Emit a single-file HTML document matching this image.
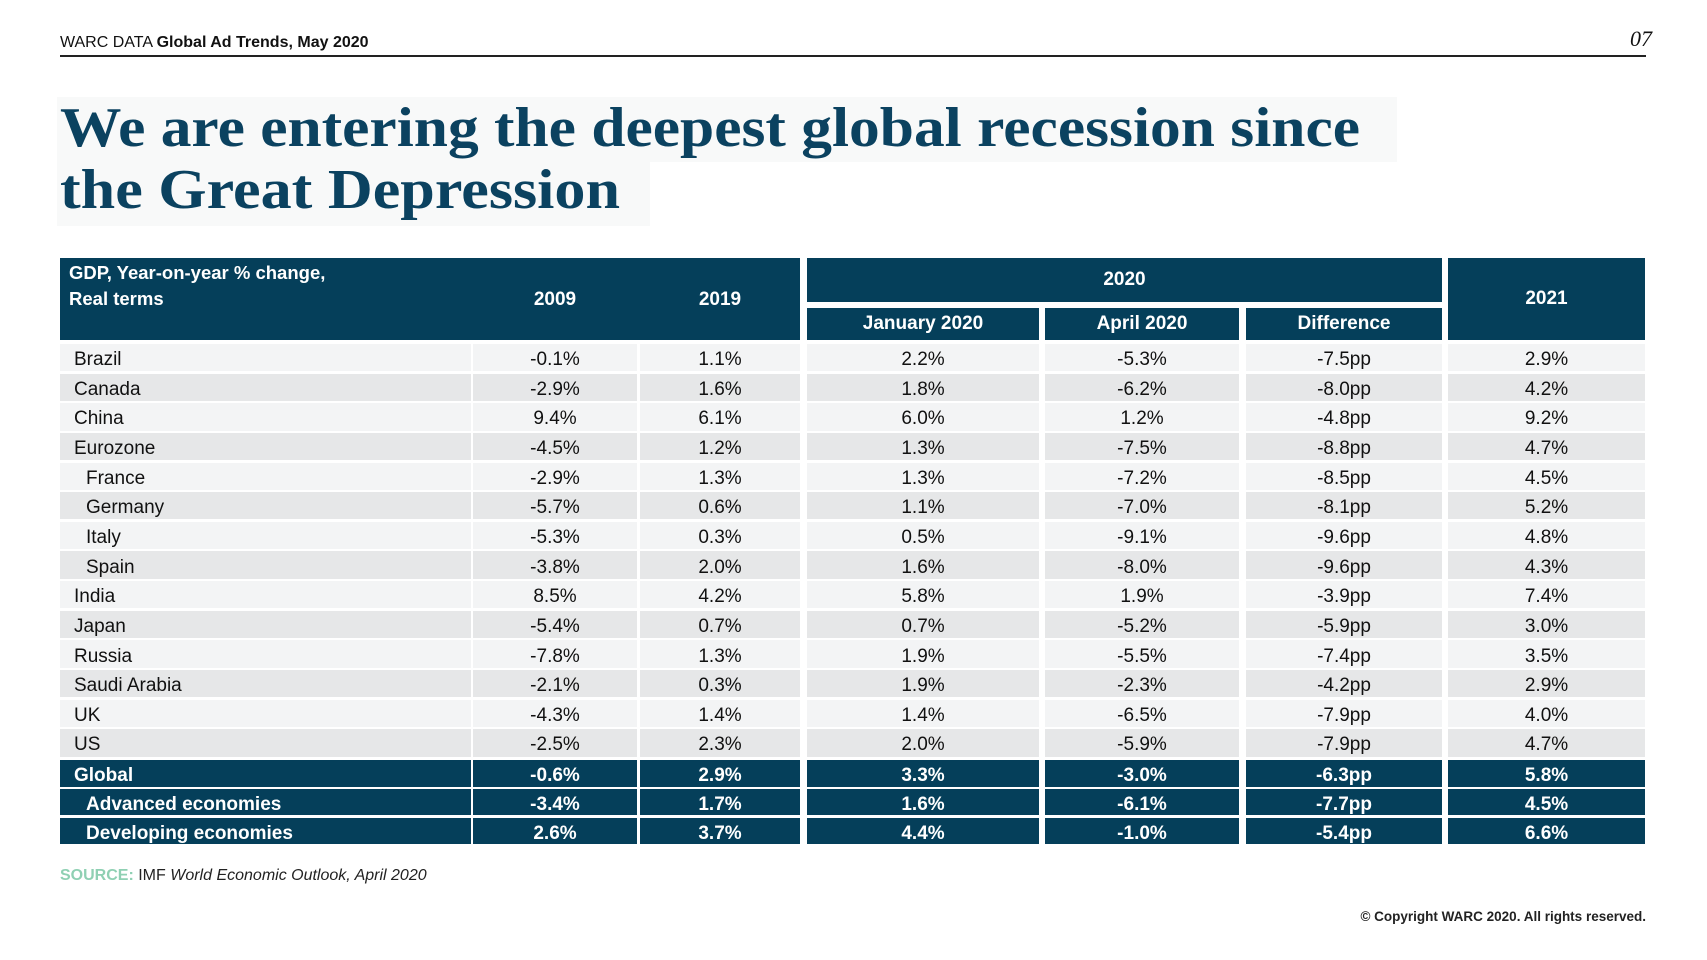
<!DOCTYPE html>
<html><head><meta charset="utf-8">
<style>
body{margin:0;width:1707px;height:960px;background:#fff;position:relative;overflow:hidden;font-family:"Liberation Sans",sans-serif;color:#111}
.a{position:absolute;box-sizing:border-box}
.c{position:absolute;box-sizing:border-box;display:flex;align-items:center;font-size:19px;padding-top:5px}
.dk{background:#053f5a;color:#fff;font-weight:bold}
</style></head><body>
<div class="a" style="left:60px;top:34px;font-size:16px;"><span>WARC DATA</span> <b>Global Ad Trends, May 2020</b></div>
<div class="a" style="right:55px;top:26px;font-family:'Liberation Serif',serif;font-style:italic;font-size:22px">07</div>
<div class="a" style="left:60px;top:55px;width:1586px;height:1.5px;background:#222"></div>
<div class="a" style="left:57px;top:97px;width:1340px;height:65px;background:#f8f9f9"></div>
<div class="a" style="left:57px;top:162px;width:593px;height:64px;background:#f8f9f9"></div>
<svg class="a" style="left:0;top:0" width="1707" height="240">
<text x="60" y="146" textLength="1300" lengthAdjust="spacingAndGlyphs" font-family="Liberation Serif,serif" font-weight="bold" font-size="56" fill="#0b4260">We are entering the deepest global recession since</text>
<text x="60" y="208" textLength="560" lengthAdjust="spacingAndGlyphs" font-family="Liberation Serif,serif" font-weight="bold" font-size="56" fill="#0b4260">the Great Depression</text>
</svg>
<div id="tbl"></div>
<div class="a" style="left:60px;top:867px;font-size:16px;color:#222"><b style="color:#8fd0b3">SOURCE:</b> IMF <i>World Economic Outlook, April 2020</i></div>
<div class="a" style="right:61px;top:909px;font-size:13.5px;font-weight:bold;color:#222">© Copyright WARC 2020. All rights reserved.</div>
<script>
const countries=["Brazil","Canada","China","Eurozone","France","Germany","Italy","Spain","India","Japan","Russia","Saudi Arabia","UK","US","Global","Advanced economies","Developing economies"];
const indent=[0,0,0,0,1,1,1,1,0,0,0,0,0,0,0,1,1];
const v2009=["-0.1%","-2.9%","9.4%","-4.5%","-2.9%","-5.7%","-5.3%","-3.8%","8.5%","-5.4%","-7.8%","-2.1%","-4.3%","-2.5%","-0.6%","-3.4%","2.6%"];
const v2019=["1.1%","1.6%","6.1%","1.2%","1.3%","0.6%","0.3%","2.0%","4.2%","0.7%","1.3%","0.3%","1.4%","2.3%","2.9%","1.7%","3.7%"];
const vJan=["2.2%","1.8%","6.0%","1.3%","1.3%","1.1%","0.5%","1.6%","5.8%","0.7%","1.9%","1.9%","1.4%","2.0%","3.3%","1.6%","4.4%"];
const vApr=["-5.3%","-6.2%","1.2%","-7.5%","-7.2%","-7.0%","-9.1%","-8.0%","1.9%","-5.2%","-5.5%","-2.3%","-6.5%","-5.9%","-3.0%","-6.1%","-1.0%"];
const vDiff=["-7.5pp","-8.0pp","-4.8pp","-8.8pp","-8.5pp","-8.1pp","-9.6pp","-9.6pp","-3.9pp","-5.9pp","-7.4pp","-4.2pp","-7.9pp","-7.9pp","-6.3pp","-7.7pp","-5.4pp"];
const v2021=["2.9%","4.2%","9.2%","4.7%","4.5%","5.2%","4.8%","4.3%","7.4%","3.0%","3.5%","2.9%","4.0%","4.7%","5.8%","4.5%","6.6%"];
const cols=[[60,471],[473,637],[640,800],[807,1039],[1045,1239],[1246,1442],[1448,1645]];
const T=document.getElementById('tbl');
function box(x,y,w,h,cls,txt,center,style){
  const d=document.createElement('div');
  d.className='c '+(cls||'');
  d.style.left=x+'px';d.style.top=y+'px';d.style.width=w+'px';d.style.height=h+'px';
  if(center)d.style.justifyContent='center';
  if(style)d.style.cssText+=style;
  d.innerHTML=txt||'';
  T.appendChild(d);return d;
}
let e;
e=box(60,258,740,82,'dk','',false,'padding-top:0');


e=box(60,258,420,82,'dk','GDP, Year-on-year % change,<br>Real terms',false,'align-items:flex-start;padding:2px 0 0 9px;line-height:26px;font-size:18.5px;background:none');


const hdr=[["2009",1],["2019",2]];
hdr.forEach(h=>{const c=cols[h[1]];e=box(c[0],272,c[1]-c[0],56,'dk',h[0],true,'background:none;padding-top:0');

});
e=box(807,258,635,44,'dk','2020',true,'padding-top:0');


[["January 2020",3],["April 2020",4],["Difference",5]].forEach(h=>{const c=cols[h[1]];e=box(c[0],308,c[1]-c[0],32,'dk',h[0],true,'padding-top:0');

});
e=box(1448,258,197,82,'dk','2021',true,'padding-top:0');


const series=[v2009,v2019,vJan,vApr,vDiff,v2021];
countries.forEach((name,i)=>{
  let y,h;
  if(i<14){y=344+i*29.64;h=27.3;}else{y=[760,789,818][i-14];h=[27,26,26][i-14];}
  const dark=i>=14;
  const bg=dark?'':(i%2===0?'background:#f3f4f5':'background:#e6e7e8');
  const c=cols[0];
  e=box(c[0],y,c[1]-c[0],h,dark?'dk':'',name,false,bg+';padding-left:'+(indent[i]?26:14)+'px');
  
  
  series.forEach((s,j)=>{const cc=cols[j+1];
    e=box(cc[0],y,cc[1]-cc[0],h,dark?'dk':'',s[i],true,bg);
    
    });
});
</script>
</body></html>
